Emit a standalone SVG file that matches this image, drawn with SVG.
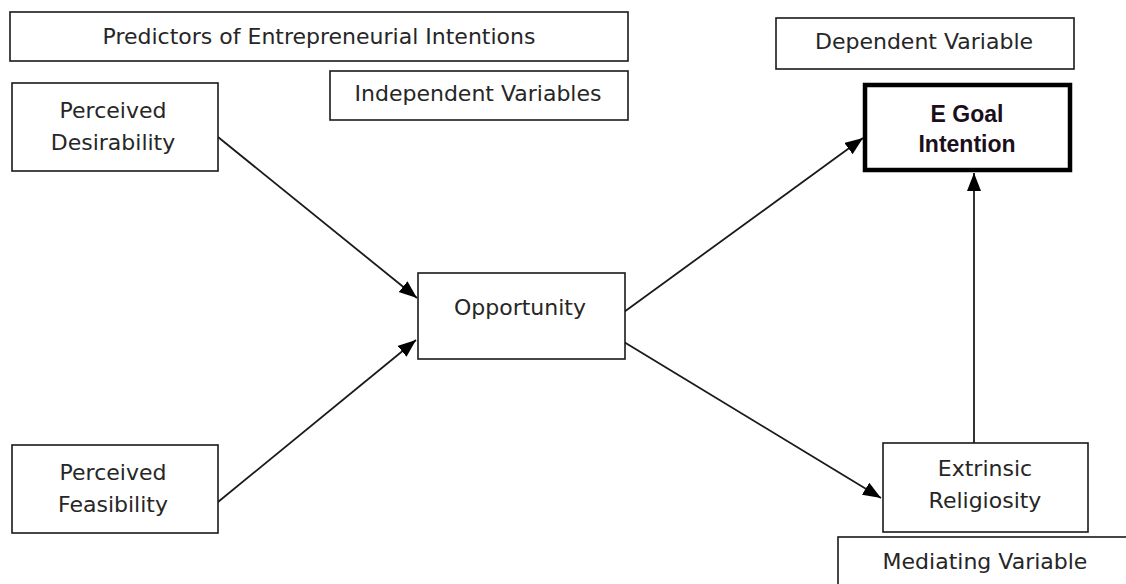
<svg xmlns="http://www.w3.org/2000/svg" width="1126" height="584" viewBox="0 0 1126 584">
  <defs>
    <style>
      .box { fill: #ffffff; stroke: #1a1a1a; stroke-width: 1.6; }
      .thick { fill: #ffffff; stroke: #000000; stroke-width: 4.5; }
      .lbl { font-family: "DejaVu Sans", sans-serif; font-size: 22px; fill: #262626; text-anchor: middle; }
      .bold { font-family: "Liberation Sans", Arial, sans-serif; font-size: 23px; font-weight: bold; fill: #1a0f1a; text-anchor: middle; }
      .conn { stroke: #1a1a1a; stroke-width: 1.8; fill: none; marker-end: url(#arrow); }
    </style>
    <marker id="arrow" markerUnits="userSpaceOnUse" markerWidth="20" markerHeight="16" refX="18" refY="7" orient="auto">
      <path d="M0,0 L18,7 L0,14 z" fill="#000000"/>
    </marker>
  </defs>
  <rect width="1126" height="584" fill="#ffffff"/>

  <g id="connectors">
    <line class="conn" x1="218" y1="137" x2="417" y2="298"/>
    <line class="conn" x1="218" y1="502" x2="416" y2="340"/>
    <line class="conn" x1="624" y1="312" x2="863" y2="138"/>
    <line class="conn" x1="624" y1="342" x2="881" y2="498"/>
    <line class="conn" x1="974" y1="443" x2="974" y2="173"/>
  </g>

  <g id="predictors">
    <rect class="box" x="10" y="12" width="618" height="49"/>
    <text class="lbl" x="319" y="44">Predictors of Entrepreneurial Intentions</text>
  </g>

  <g id="independent-variables">
    <rect class="box" x="330" y="71" width="298" height="49"/>
    <text class="lbl" x="478" y="101">Independent Variables</text>
  </g>

  <g id="perceived-desirability">
    <rect class="box" x="12" y="83" width="206" height="88"/>
    <text class="lbl" x="113" y="118">Perceived</text>
    <text class="lbl" x="113" y="150">Desirability</text>
  </g>

  <g id="perceived-feasibility">
    <rect class="box" x="12" y="445" width="206" height="88"/>
    <text class="lbl" x="113" y="480">Perceived</text>
    <text class="lbl" x="113" y="512">Feasibility</text>
  </g>

  <g id="opportunity">
    <rect class="box" x="418" y="273" width="207" height="86"/>
    <text class="lbl" x="520" y="315">Opportunity</text>
  </g>

  <g id="dependent-variable">
    <rect class="box" x="776" y="18" width="298" height="51"/>
    <text class="lbl" x="924" y="49">Dependent Variable</text>
  </g>

  <g id="e-goal-intention">
    <rect class="thick" x="865" y="85" width="205" height="85"/>
    <text class="bold" x="967" y="122">E Goal</text>
    <text class="bold" x="967" y="152">Intention</text>
  </g>

  <g id="extrinsic-religiosity">
    <rect class="box" x="883" y="443" width="205" height="89"/>
    <text class="lbl" x="985" y="476">Extrinsic</text>
    <text class="lbl" x="985" y="508">Religiosity</text>
  </g>

  <g id="mediating-variable">
    <rect class="box" x="838" y="537" width="300" height="60"/>
    <text class="lbl" x="985" y="569">Mediating Variable</text>
  </g>
</svg>
